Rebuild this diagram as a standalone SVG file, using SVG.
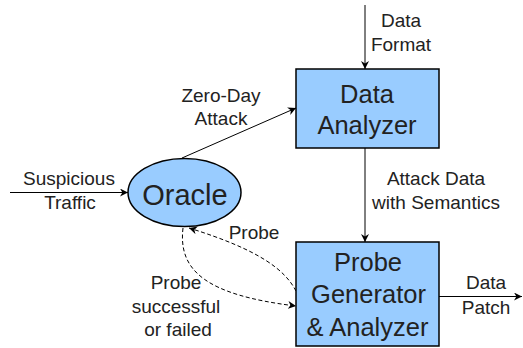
<svg xmlns="http://www.w3.org/2000/svg" width="523" height="348" viewBox="0 0 523 348">
<defs>
<marker id="ah" viewBox="0 0 10 10" refX="10" refY="5" markerWidth="8" markerHeight="8" markerUnits="userSpaceOnUse" orient="auto">
<path d="M0,0 L10,5 L0,10 L3,5 Z" fill="#000"/>
</marker>
</defs>
<style>
text{font-family:"Liberation Sans",Arial,sans-serif;fill:#222;text-anchor:middle}
.s{font-size:19px}
.b{font-size:25.5px}
.o{font-size:29px}
.node{fill:#99CCFF;stroke:#000;stroke-width:1.5}
.c{fill:none;stroke:#000;stroke-width:1;marker-end:url(#ah)}
.d{fill:none;stroke:#000;stroke-width:1;stroke-dasharray:4,2.5;marker-end:url(#ah)}
</style>
<rect width="523" height="348" fill="#fff"/>
<g id="connectors">
<line class="c" x1="365" y1="5" x2="365" y2="69"/>
<line class="c" x1="182" y1="158" x2="296" y2="108"/>
<line class="c" x1="10" y1="192.5" x2="128" y2="192.5"/>
<line class="c" x1="365" y1="148" x2="365" y2="242"/>
<line class="c" x1="439" y1="296.5" x2="522" y2="296.5"/>
<path class="d" d="M296,291 C285,270 260,250 189,228"/>
<path class="d" d="M183,228 C178,270 205,295 296,306"/>
</g>
<g id="data-analyzer">
<rect class="node" x="296" y="69" width="143" height="79"/>
<text class="b" x="367" y="102.5">Data</text>
<text class="b" x="367" y="134">Analyzer</text>
</g>
<g id="oracle">
<ellipse class="node" cx="184.5" cy="192.5" rx="56.5" ry="34"/>
<text class="o" x="185" y="204.5">Oracle</text>
</g>
<g id="probe-generator">
<rect class="node" x="296" y="242" width="143" height="104"/>
<text class="b" x="368" y="270.5">Probe</text>
<text class="b" x="368.5" y="303">Generator</text>
<text class="b" x="367.5" y="335.5">&amp; Analyzer</text>
</g>
<g id="labels">
<text class="s" x="401" y="27">Data</text>
<text class="s" x="401" y="50.5">Format</text>
<text class="s" x="221" y="101.5">Zero-Day</text>
<text class="s" x="221" y="124.5">Attack</text>
<text class="s" x="69" y="185">Suspicious</text>
<text class="s" x="70" y="209">Traffic</text>
<text class="s" x="436" y="184.5">Attack Data</text>
<text class="s" x="436" y="209">with Semantics</text>
<text class="s" x="254" y="239">Probe</text>
<text class="s" x="176" y="289">Probe</text>
<text class="s" x="176" y="312.5">successful</text>
<text class="s" x="178" y="335.5">or failed</text>
<text class="s" x="486" y="289">Data</text>
<text class="s" x="486" y="314">Patch</text>
</g>
</svg>
